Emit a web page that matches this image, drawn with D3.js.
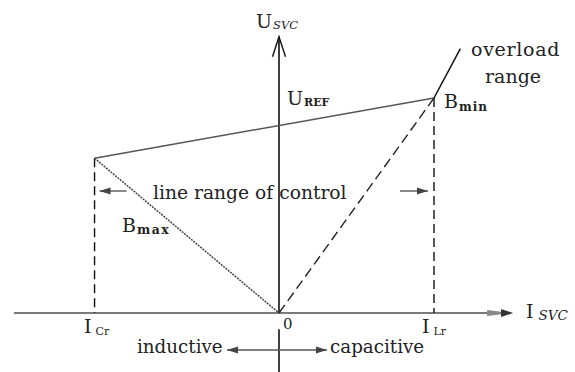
<!DOCTYPE html>
<html>
<head>
<meta charset="utf-8">
<script src="https://cdn.jsdelivr.net/npm/d3@7"></script>
<style>
  html, body { margin: 0; padding: 0; background: #fff; }
  svg { display: block; }
  text { font-family: "DejaVu Serif", serif; fill: #222; }
</style>
</head>
<body>
<svg id="chart" width="575" height="372"></svg>
<script>
// ---- data (normalised units: I in units of I_Lr, U in units of U at B_min) ----
const limitCurrents = [-1.19, 1];          // I_Cr, I_Lr
const limitLabels = ["Cr", "Lr"];
const controlLineI = [-1.19, 1];            // reference characteristic
const controlLineU = [0.72, 1];
const bmaxLineI = [-1.19, 0];
const bmaxLineU = [0.72, 0];
const bminLineI = [0, 1];
const bminLineU = [0, 1];
const overloadI = [1, 1.17];
const overloadU = [1, 1.23];
const axisI = [-1.71, 1.51];
const axisU = [-0.275, 1.285];

const svg = d3.select("#chart");
const x = d3.scaleLinear().domain([0, 1]).range([279, 434]);
const y = d3.scaleLinear().domain([0, 1]).range([313, 98]);
const line = d3.line().x(d => x(d[0])).y(d => y(d[1]));
const zip = (a, b) => a.map((v, i) => [v, b[i]]);

// x axis
svg.append("path").attr("d", line([[axisI[0], 0], [axisI[1] - 0.1, 0]]))
  .attr("stroke", "#7a7a7a").attr("stroke-width", 2).attr("fill", "none");
const xt = x(axisI[1]), y0 = y(0);
svg.append("path")
  .attr("d", `M${xt - 26},${y0 - 3} L${xt},${y0} L${xt - 26},${y0 + 3} Z`)
  .attr("fill", "#888");
svg.append("path")
  .attr("d", `M${xt - 12},${y0 - 4} L${xt},${y0} L${xt - 12},${y0 + 4} Z`)
  .attr("fill", "#333");

// y axis
svg.append("path").attr("d", line([[0, 0], [0, axisU[1]]]))
  .attr("stroke", "#111").attr("stroke-width", 1.6).attr("fill", "none");
svg.append("path").attr("d", line([[0, axisU[0]], [0, -0.075]]))
  .attr("stroke", "#111").attr("stroke-width", 1.6).attr("fill", "none");
const yt = y(axisU[1]), x0 = x(0);
svg.append("path")
  .attr("d", `M${x0 - 6.5},${yt + 20} L${x0},${yt} L${x0 + 6.5},${yt + 20}`)
  .attr("stroke", "#111").attr("stroke-width", 1.4).attr("fill", "none");

// vertical dashed limit lines
limitCurrents.forEach((c, i) => {
  const uTop = i === 0 ? controlLineU[0] : controlLineU[1];
  svg.append("path").attr("d", line([[c, uTop], [c, 0]]))
    .attr("stroke", "#111").attr("stroke-width", 1.4)
    .attr("stroke-dasharray", "9,5").attr("fill", "none");
});

// control characteristic
svg.append("path").attr("d", line(zip(controlLineI, controlLineU)))
  .attr("stroke", "#555").attr("stroke-width", 1.5).attr("fill", "none");
// B_max line
svg.append("path").attr("d", line(zip(bmaxLineI, bmaxLineU)))
  .attr("stroke", "#444").attr("stroke-width", 1.5)
  .attr("stroke-dasharray", "2,1").attr("fill", "none");
// B_min dashed line
svg.append("path").attr("d", line(zip(bminLineI, bminLineU)))
  .attr("stroke", "#222").attr("stroke-width", 1.4)
  .attr("stroke-dasharray", "10,5").attr("fill", "none");
// overload line
svg.append("path").attr("d", line(zip(overloadI, overloadU)))
  .attr("stroke", "#111").attr("stroke-width", 1.5).attr("fill", "none");

// helper for small arrows
function arrow(x1, x2, yy, both) {
  svg.append("line").attr("x1", x1).attr("x2", x2).attr("y1", yy).attr("y2", yy)
    .attr("stroke", "#555").attr("stroke-width", 1.4);
  const head = (tip, dir) => svg.append("path")
    .attr("d", `M${tip},${yy} L${tip - dir * 11},${yy - 3.5} L${tip - dir * 11},${yy + 3.5} Z`)
    .attr("fill", "#444");
  head(x2, Math.sign(x2 - x1));
  if (both) head(x1, Math.sign(x1 - x2));
}
arrow(x(limitCurrents[0]) + 32, x(limitCurrents[0]) + 5, 191, false);
arrow(x(limitCurrents[1]) - 34, x(limitCurrents[1]) - 6, 191, false);
arrow(227, 327, 350, true);

// text helpers
function label(tx, ty, main, sub, opt = {}) {
  const t = svg.append("text").attr("x", tx).attr("y", ty)
    .attr("font-size", opt.size || 19);
  t.append("tspan").text(main);
  if (sub) {
    t.append("tspan").attr("dx", opt.gap || 1).attr("dy", opt.dy || 2)
      .attr("font-size", opt.subSize || 12)
      .attr("font-style", opt.italic ? "italic" : null)
      .attr("font-weight", opt.bold ? "bold" : null)
      .attr("letter-spacing", opt.ls || 0)
      .text(sub);
  }
}
label(256, 28, "U", "SVC", { subSize: 11.5, dy: 1, italic: true });
label(287, 105, "U", "REF", { subSize: 11, dy: 1, bold: true });
label(444, 108, "B", "min", { subSize: 12, dy: 3, bold: true, ls: 1 });
label(122, 232, "B", "max", { subSize: 12.5, dy: 2, bold: true, ls: 1.5, gap: 0 });
label(84, 333, "I", limitLabels[0], { subSize: 11, dy: 2, gap: 4 });
label(422, 333, "I", limitLabels[1], { subSize: 11, dy: 2, gap: 4 });
label(526, 318, "I", "SVC", { subSize: 13.5, dy: 2, italic: true, gap: 5 });

svg.append("text").attr("x", 283).attr("y", 329).attr("font-size", 15).text("0");
svg.append("text").attr("x", 471).attr("y", 56).attr("font-size", 19)
  .attr("letter-spacing", 0.7).text("overload");
svg.append("text").attr("x", 485).attr("y", 83).attr("font-size", 19).text("range");
svg.append("text").attr("x", 153).attr("y", 199).attr("font-size", 18.7)
  .text("line range of control");
svg.append("text").attr("x", 137).attr("y", 353).attr("font-size", 18.3).text("inductive");
svg.append("text").attr("x", 330).attr("y", 353).attr("font-size", 18.3).text("capacitive");
</script>
</body>
</html>
